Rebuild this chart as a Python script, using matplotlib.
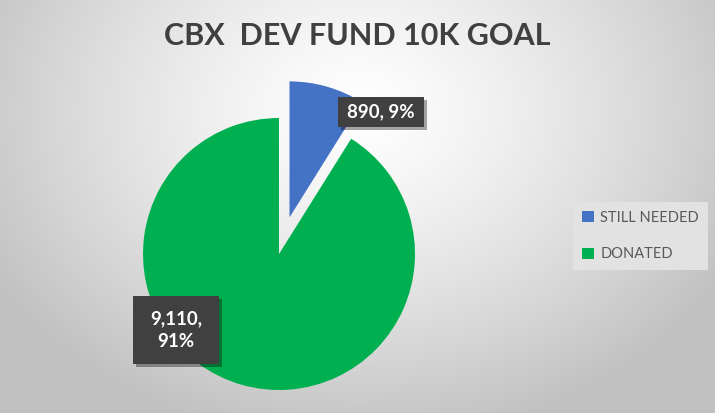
import numpy as np
import matplotlib
matplotlib.use("Agg")
import matplotlib.pyplot as plt
from matplotlib.patches import Rectangle

categories = ["STILL NEEDED", "DONATED"]
values = [890, 9110]
colors = ["#4472C4", "#00B050"]
title = "CBX  DEV FUND 10K GOAL"

W, H = 715, 413
fig = plt.figure(figsize=(W / 100, H / 100), dpi=100)

# radial gradient background
bg = fig.add_axes([0, 0, 1, 1])
yy, xx = np.mgrid[0:H, 0:W]
d = np.sqrt(((xx - 357) / 420.0) ** 2 + ((yy - 110) / 330.0) ** 2)
d = np.clip(d, 0, 1)
v = 1.0 - 0.24 * d ** 1.3
img = np.dstack([v, v, v])
bg.imshow(img, aspect="auto", extent=[0, W, H, 0])
bg.set_xlim(0, W)
bg.set_ylim(H, 0)
bg.axis("off")

fig.text(357 / W, 1 - 36 / H, title, ha="center", va="center",
         fontsize=22, fontweight="bold", color="#404040", family="Lato")

# pie axes: 1 data unit = 136 px, center at (279,254)
R = 136
L = 1.5
side = 2 * L * R
cx, cy = 279, H - 254
ax = fig.add_axes([(cx - side / 2) / W, (cy - side / 2) / H, side / W, side / H])
wedges, _ = ax.pie(values, colors=colors, startangle=90, counterclock=False,
                   explode=[0.28, 0], radius=1,
                   wedgeprops=dict(linewidth=0))
ax.set_xlim(-L, L)
ax.set_ylim(-L, L)
ax.set_aspect("auto")
ax.axis("off")
for w in wedges:
    w.set_clip_on(False)

total = sum(values)

def label(xc, yc, wpx, hpx, text):
    wd, hd = wpx / R, hpx / R
    sh = Rectangle((xc - wd / 2 + 3 / R, yc - hd / 2 - 3 / R), wd, hd,
                   facecolor="black", alpha=0.35, linewidth=0, zorder=5, clip_on=False)
    ax.add_patch(sh)
    rect = Rectangle((xc - wd / 2, yc - hd / 2), wd, hd,
                     facecolor="#404040", linewidth=0, zorder=6, clip_on=False)
    ax.add_patch(rect)
    ax.text(xc, yc, text, ha="center", va="center", color="white",
            fontsize=13.5, fontweight="bold", family="Lato", zorder=7,
            linespacing=1.45)

pct = [round(100 * v_ / total) for v_ in values]
label(0.75, 1.044, 86, 30, f"{values[0]:,}, {pct[0]}%")
label(-0.757, -0.559, 86, 68, f"{values[1]:,},\n{pct[1]}%")

leg = fig.legend(wedges, categories, loc="center left",
                 bbox_to_anchor=(566 / W, 1 - 236 / H),
                 frameon=True, fancybox=False, handlelength=0.8, handleheight=0.8,
                 handletextpad=0.45, labelspacing=1.55, borderpad=0.6,
                 prop=dict(family="Lato", size=10.5))
leg.get_frame().set_facecolor("#e2e2e2")
leg.get_frame().set_edgecolor("none")
leg.get_frame().set_alpha(1)
for t in leg.get_texts():
    t.set_color("#595959")

fig.savefig("out.png", dpi=100)
